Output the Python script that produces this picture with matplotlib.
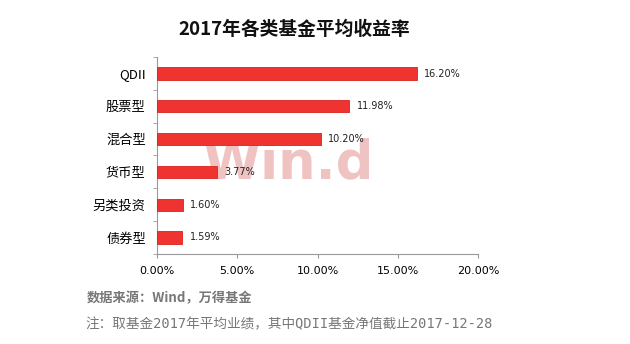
import numpy as np
import matplotlib
matplotlib.use("Agg")
import matplotlib.pyplot as plt

plt.rcParams['font.family'] = ['Noto Sans CJK SC', 'DejaVu Sans']

categories = ['QDII', '股票型', '混合型', '货币型', '另类投资', '债券型']
returns = [16.20, 11.98, 10.20, 3.77, 1.60, 1.59]
xticks = [0, 5, 10, 15, 20]

fig = plt.figure(figsize=(6.3, 3.44), dpi=100)
ax = fig.add_axes((0.249, 0.262, 0.510, 0.572))

y = np.arange(len(categories))
ax.barh(y, returns, height=0.37, color='#EE3330', edgecolor='#D8221F', linewidth=0.6, zorder=3)
for yi, v in zip(y, returns):
    ax.text(v + 0.45, yi, '%.2f%%' % v, va='center', ha='left', fontsize=7,
            family='DejaVu Sans', color='#222222', zorder=4)

# watermark
ax.text(8.2, 2.75, 'Win.d', fontsize=38, fontweight='bold', family='DejaVu Sans',
        color='#EDB5B5', alpha=0.8, ha='center', va='center', zorder=1)

ax.set_ylim(len(categories) - 0.5, -0.5)
ax.set_xlim(0, 20)
ax.set_yticks(y)
ax.set_yticklabels(categories, fontsize=9.5)
ax.set_yticks(np.arange(-0.5, len(categories), 1.0), minor=True)
ax.tick_params(axis='y', which='major', length=0, pad=8)
ax.tick_params(axis='y', which='minor', length=3, color='#999999')
ax.set_xticks(xticks)
ax.set_xticklabels(['%.2f%%' % t for t in xticks], fontsize=8, family='DejaVu Sans')
ax.tick_params(axis='x', length=3, color='#999999', pad=6)

for s in ['top', 'right']:
    ax.spines[s].set_visible(False)
for s in ['left', 'bottom']:
    ax.spines[s].set_color('#999999')
    ax.spines[s].set_linewidth(0.8)

fig.text(0.467, 0.913, '2017年各类基金平均收益率', ha='center', va='center',
         fontsize=13.5, fontweight='bold', color='#111111')
fig.text(0.138, 0.132, '数据来源：Wind，万得基金', ha='left', va='center',
         fontsize=9.5, fontweight='bold', color='#777777')
fig.text(0.136, 0.058, '注：取基金2017年平均业绩，其中QDII基金净值截止2017-12-28', ha='left',
         va='center', fontsize=9.8, color='#777777',
         family=['DejaVu Sans Mono', 'Noto Sans CJK SC'])

fig.savefig('out.png', dpi=100)
